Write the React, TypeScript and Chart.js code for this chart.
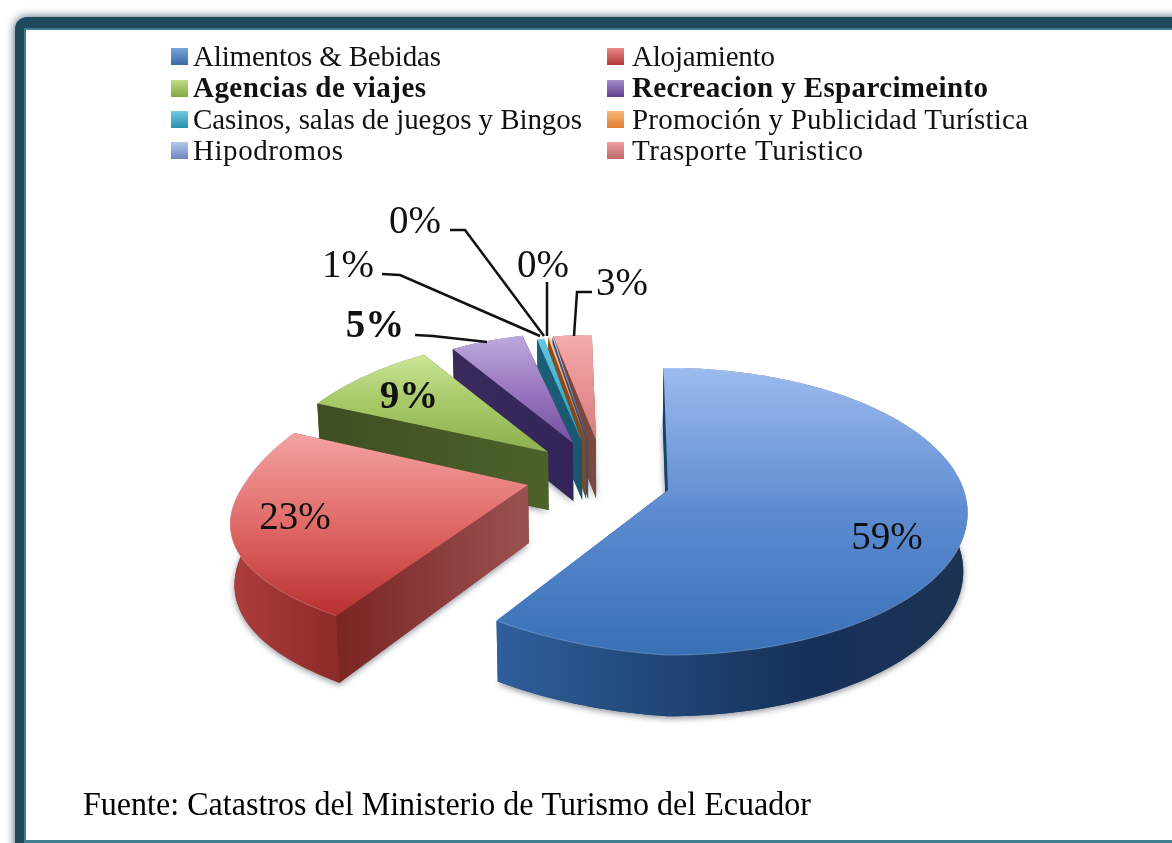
import React, { useEffect, useRef } from "react";
import { Chart, registerables } from "chart.js";

Chart.register(...registerables);

// ---- data ----
const categories = [
  "Alimentos & Bebidas",
  "Alojamiento",
  "Agencias de viajes",
  "Recreacion y Esparcimeinto",
  "Casinos, salas de juegos y Bingos",
  "Promoción y Publicidad Turística",
  "Hipodromos",
  "Trasporte Turistico",
];
const shares = [58.6, 23.1, 9.4, 5.4, 0.6, 0.2, 0.1, 2.6];
const sourceNote = "Fuente: Catastros del Ministerio de Turismo del Ecuador";

// ---- styling ----
const boldIndex = [2, 3];
const topStops = [
  ["#9cbbee", "#5d8bd0", "#3870b6"],
  ["#f3a3a3", "#e06a68", "#b93030"],
  ["#cbe696", "#a6c866", "#8eb04e"],
  ["#bcaadc", "#9a78c0", "#7450a0"],
  ["#66c8e2", "#44b0d0", "#2f9cbe"],
  ["#f9cca4", "#f0a868", "#e88a40"],
  ["#c4d2ee", "#a0b5de", "#8098cc"],
  ["#f4acac", "#e89292", "#cf7f7f"],
];
const wallStops = [
  ["#2f5f9c", "#204878", "#17305a", "#1c3452"],
  ["#ad3e3c", "#8e2c2a", "#7f2724", "#7f2724"],
  ["#3e4e22", "#3e4e22", "#465a26", "#4a6028"],
  ["#3a2a5c", "#3a2a5c", "#352656", "#352656"],
  ["#1d5f78", "#1d5f78", "#1b566e", "#1b566e"],
  ["#8a4e20", "#8a4e20", "#80491e", "#80491e"],
  ["#3a4e78", "#3a4e78", "#3a4e78", "#3a4e78"],
  ["#7a4038", "#7a4038", "#7a4a40", "#7a4a40"],
];
const cutStops = [
  ["#1c3f6c", "#1c3f6c"],
  ["#7a2522", "#9a5250"],
  ["#3e4e22", "#4c6229"],
  ["#3a2a5c", "#33255a"],
  ["#1d5f78", "#1b566e"],
  ["#8a4e20", "#80491e"],
  ["#3a4e78", "#3a4e78"],
  ["#7a4038", "#7a4a40"],
];
const swatchStops = [
  ["#7aa3dc", "#3a6aa8"],
  ["#e88a88", "#b53a38"],
  ["#c2dc84", "#86a844"],
  ["#a58cc8", "#5f3f8f"],
  ["#70c8e0", "#2a90b0"],
  ["#f8b878", "#e08030"],
  ["#b8c8e8", "#6c88bc"],
  ["#eea0a0", "#c06868"],
];
// where each exploded slice's apex lands, and how small it looks with distance
const sliceApexX = [668, 528, 548, 573, 582, 586, 588, 596];
const sliceApexY = [490, 485, 452, 443, 442, 441, 441, 440];
const sliceScaleX = [1.02, 0.98, 0.95, 0.92, 0.82, 0.82, 0.82, 1.02];
const sliceScaleY = [1, 1, 0.93, 0.9, 0.86, 0.86, 0.86, 0.86];
const slicePerspX = [0.16, 0.3, 0.25, 0.25, 0.25, 0.25, 0.25, 0.25];
const sliceShear = [0.06, 0.055, 0, 0, 0, 0, 0, 0];
const sliceDepthGrow = [0.3, 1.04, 0.3, 0.3, 0.3, 0.3, 0.3, 0.3];
const drawOrder = [7, 6, 5, 4, 3, 2, 1, 0];
const PERSPECTIVE_Y = 0.15;
const SQUASH = 0.484;
const DEPTH = 58;
const VANISH_X = 600;
const CONVERGE = 0.012;

const labelX = [887, 295, 409, 375, 348, 415, 543, 622];
const labelY = [539, 519, 398, 327, 267, 223, 267, 285];
const leaderStart: (number[] | null)[] = [null, null, null, [415, 335], [382, 274], [450, 230], [547, 282], [592, 292]];
const leaderElbow: (number[] | null)[] = [null, null, null, [433, 336], [400, 275], [465, 230], null, [577, 292]];
const leaderEnd: (number[] | null)[] = [null, null, null, [487, 342], [540, 336], [544, 336], [547, 336], [574, 336]];

const legendRowY = [58, 90, 121, 152];
const swatchColX = [171, 607];
const textColX = [193, 632];
const legendFit = [248, 143, 233, 356, 389, 396, 150, 231];

function project(i: number, theta: number, radius: number, R: number, bottom = false) {
  const s = Math.sin(theta);
  const c = Math.cos(theta);
  const wx = 1 + slicePerspX[i] * c * radius;
  const wy = 1 + PERSPECTIVE_Y * c * radius;
  const dx = (R * s * radius * sliceScaleX[i]) / wx;
  let x = sliceApexX[i] + dx;
  let y = sliceApexY[i] - (R * SQUASH * c * radius * sliceScaleY[i]) / wy;
  if (dx < 0 && c < 0) y += sliceShear[i] * dx * -c;
  if (bottom) {
    x += (VANISH_X - x) * CONVERGE;
    y += DEPTH * (1 + (1 / wy - 1) * sliceDepthGrow[i]);
  }
  return [x, y];
}

function arcPoints(i: number, a0: number, a1: number, R: number, bottom = false) {
  const n = Math.max(2, Math.ceil((a1 - a0) * 40));
  const pts: number[][] = [];
  for (let k = 0; k <= n; k++) pts.push(project(i, a0 + ((a1 - a0) * k) / n, 1, R, bottom));
  return pts;
}

function poly(ctx: CanvasRenderingContext2D, pts: number[][]) {
  ctx.beginPath();
  pts.forEach((p, k) => (k ? ctx.lineTo(p[0], p[1]) : ctx.moveTo(p[0], p[1])));
  ctx.closePath();
}

function bounds(pts: number[][]) {
  const xs = pts.map((p) => p[0]);
  const ys = pts.map((p) => p[1]);
  return { x0: Math.min(...xs), x1: Math.max(...xs), y0: Math.min(...ys), y1: Math.max(...ys) };
}

function gradient(ctx: CanvasRenderingContext2D, x0: number, y0: number, x1: number, y1: number, stops: string[]) {
  const g = ctx.createLinearGradient(x0, y0, x1, y1);
  stops.forEach((c, k) => g.addColorStop(k / (stops.length - 1), c));
  return g;
}

const framePlugin = {
  id: "frame",
  beforeDraw(chart: any) {
    const ctx: CanvasRenderingContext2D = chart.ctx;
    ctx.save();
    ctx.fillStyle = "#ffffff";
    ctx.fillRect(0, 0, 1172, 843);
    ctx.shadowColor = "rgba(30,60,80,0.85)";
    ctx.shadowBlur = 10;
    ctx.fillStyle = "#1f4a5e";
    ctx.beginPath();
    ctx.roundRect(15, 17, 1300, 900, 12);
    ctx.fill();
    ctx.shadowColor = "transparent";
    ctx.fillStyle = "#3f8090";
    ctx.fillRect(24, 28, 1148, 815);
    ctx.fillStyle = "#ffffff";
    ctx.fillRect(26, 30, 1146, 810);
    ctx.restore();
  },
};

const piePlugin = {
  id: "projectedPie",
  beforeDatasetsDraw(chart: any) {
    const ctx: CanvasRenderingContext2D = chart.ctx;
    const arcs = chart.getDatasetMeta(0).data;
    const toTheta = (a: number) => a + Math.PI / 2;
    for (const i of drawOrder) {
      const arc = arcs[i];
      const R = arc.outerRadius;
      const a0 = toTheta(arc.startAngle);
      const a1 = toTheta(arc.endAngle);
      const apex = [sliceApexX[i], sliceApexY[i]];
      const apexB = project(i, 0, 0, R, true);
      const rimT = arcPoints(i, a0, a1, R);
      const rimB = arcPoints(i, a0, a1, R, true);
      const top = [apex, ...rimT];
      const bottom = [apexB, ...rimB];
      const b = bounds([...top, ...bottom]);

      // soft cast shadow
      ctx.save();
      ctx.shadowColor = "rgba(40,50,60,0.55)";
      ctx.shadowBlur = 6;
      ctx.shadowOffsetY = 2;
      ctx.fillStyle = wallStops[i][1];
      poly(ctx, bottom);
      ctx.fill();
      ctx.restore();

      const wall = gradient(ctx, b.x0, 0, b.x1, 0, wallStops[i]);
      // far cut wall
      ctx.fillStyle = wall;
      poly(ctx, [apex, rimT[rimT.length - 1], rimB[rimB.length - 1], apexB]);
      ctx.fill();
      // outer wall
      poly(ctx, [...rimT, ...rimB.slice().reverse()]);
      ctx.fill();
      // near cut wall
      const c0 = rimT[0];
      ctx.fillStyle = gradient(ctx, c0[0], 0, apex[0], 0, cutStops[i]);
      poly(ctx, [apex, c0, rimB[0], apexB]);
      ctx.fill();
      // top face
      ctx.fillStyle = gradient(ctx, 0, bounds(top).y0, 0, bounds(top).y1, topStops[i]);
      poly(ctx, top);
      ctx.fill();
      // rim highlight
      ctx.strokeStyle = "rgba(255,255,255,0.22)";
      ctx.lineWidth = 1;
      ctx.beginPath();
      rimT.forEach((p, k) => (k ? ctx.lineTo(p[0], p[1]) : ctx.moveTo(p[0], p[1])));
      ctx.stroke();
    }
    return false;
  },
};

const textPlugin = {
  id: "texts",
  afterDraw(chart: any) {
    const ctx: CanvasRenderingContext2D = chart.ctx as any;
    const arcs = chart.getDatasetMeta(0).data;
    ctx.save();
    ctx.fillStyle = "#111111";
    ctx.textBaseline = "middle";
    ctx.textAlign = "left";
    // legend
    categories.forEach((name, i) => {
      const row = legendRowY[Math.floor(i / 2)];
      const col = i % 2;
      const sx = swatchColX[col];
      ctx.fillStyle = gradient(ctx, 0, row - 10, 0, row + 7, swatchStops[i]);
      ctx.fillRect(sx, row - 10, 17, 17);
      ctx.fillStyle = "#111111";
      const bold = boldIndex.includes(i);
      ctx.font = `${bold ? "bold " : ""}29px "Liberation Serif"`;
      (ctx as any).letterSpacing = "0px";
      const w = ctx.measureText(name).width;
      (ctx as any).letterSpacing = `${(legendFit[i] - w) / (name.length - 1)}px`;
      ctx.fillText(name, textColX[col], row);
    });
    (ctx as any).letterSpacing = "0px";
    // leader lines
    ctx.strokeStyle = "#111111";
    ctx.lineWidth = 2.5;
    shares.forEach((_, i) => {
      const start = leaderStart[i];
      if (!start) return;
      const arc = arcs[i];
      const mid = (arc.startAngle + arc.endAngle) / 2 + Math.PI / 2;
      const end = leaderEnd[i] || project(i, mid, 1, arc.outerRadius);
      ctx.beginPath();
      ctx.moveTo(start[0], start[1]);
      const elbow = leaderElbow[i];
      if (elbow) ctx.lineTo(elbow[0], elbow[1]);
      ctx.lineTo(end[0], end[1]);
      ctx.stroke();
    });
    // percentages
    ctx.textAlign = "center";
    shares.forEach((v, i) => {
      ctx.font = `${boldIndex.includes(i) ? "bold " : ""}39px "Liberation Serif"`;
      ctx.fillStyle = "#111111";
      ctx.fillText(`${Math.round(v)}%`, labelX[i], labelY[i]);
    });
    // source note
    ctx.textAlign = "left";
    ctx.textBaseline = "alphabetic";
    ctx.font = `34px "Liberation Serif"`;
    ctx.fillStyle = "#000000";
    ctx.fillText(sourceNote, 83, 815, 728);
    ctx.restore();
  },
};

export default function App() {
  const ref = useRef<HTMLCanvasElement>(null);
  useEffect(() => {
    document.body.style.margin = "0";
    const chart = new Chart(ref.current!, {
      type: "pie",
      data: {
        labels: categories,
        datasets: [{ data: shares, backgroundColor: topStops.map((s) => s[1]), radius: 290, borderWidth: 0 }],
      },
      options: {
        responsive: false,
        animation: false,
        rotation: -1,
        plugins: { legend: { display: false }, tooltip: { enabled: false } },
      },
      plugins: [framePlugin, piePlugin, textPlugin],
    } as any);
    return () => chart.destroy();
  }, []);
  return (
    <div style={{ position: "absolute", left: 0, top: 0, width: 1172, height: 843, overflow: "hidden" }}>
      <canvas ref={ref} width={1172} height={843} style={{ display: "block" }} />
    </div>
  );
}
